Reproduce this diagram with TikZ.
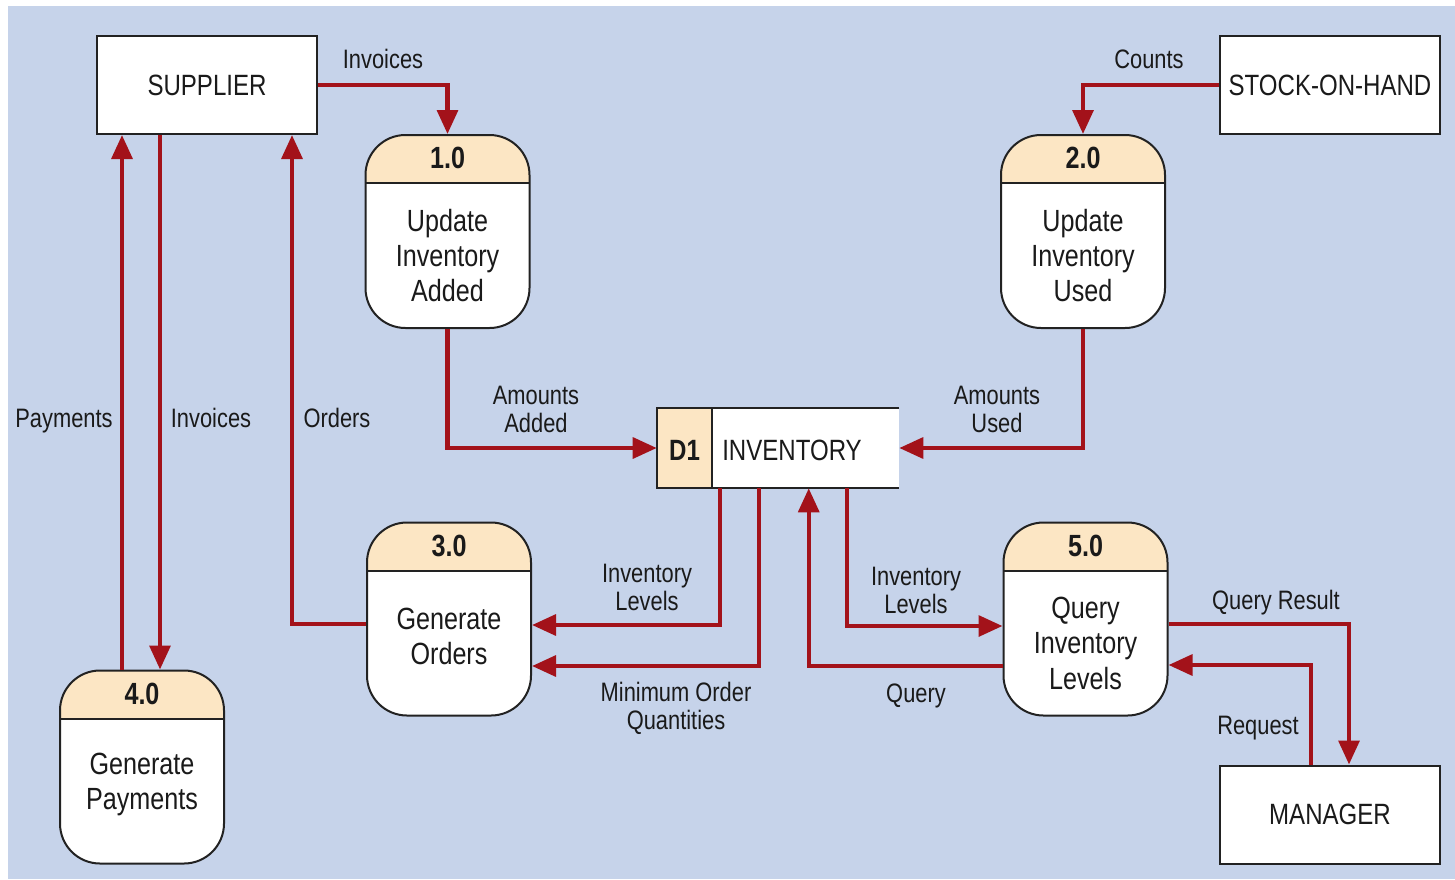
\documentclass[tikz,border=0pt]{standalone}
\usepackage{fontspec}
\setmainfont{Liberation Sans}[FakeStretch=0.82]
\usetikzlibrary{arrows.meta}
\definecolor{bgblue}{HTML}{C6D3EA}
\definecolor{peach}{HTML}{FCE6C4}
\definecolor{flowred}{HTML}{A3121A}
\definecolor{edge}{HTML}{222222}
\definecolor{ink}{HTML}{1A1A1A}
\tikzset{
  entity/.style={draw=edge, fill=white, line width=1.5pt, minimum width=165pt,
    minimum height=73.5pt, inner sep=0pt, text=ink, font=\fontsize{22}{26}\selectfont},
  procbox/.style={draw=edge, fill=white, line width=1.5pt, rounded corners=30pt,
    minimum width=123pt, minimum height=144.75pt, inner sep=0pt,
    path picture={
      \fill[peach, sharp corners] (path picture bounding box.north west) rectangle
        ([yshift=-36pt]path picture bounding box.north east);
      \draw[edge, line width=1.5pt, sharp corners] ([yshift=-36pt]path picture bounding box.north west)
        -- ([yshift=-36pt]path picture bounding box.north east);}},
  headtxt/.style={text=ink, font=\bfseries\fontsize{23}{26}\selectfont, inner sep=0pt},
  bodytxt/.style={text=ink, align=center, font=\fontsize{23}{26.6}\selectfont, inner sep=0pt},
  flowlbl/.style={text=ink, align=center, font=\fontsize{20}{21}\selectfont, inner sep=0pt},
  flow/.style={draw=flowred, line width=3.2pt,
    -{Triangle[length=18pt,width=15.5pt]}},
}
% process box: name, x, y, number, caption, caption offset below centre
\newcommand\procnode[6]{%
  \node[procbox] (#1) at (#2,#3) {};
  \node[headtxt] (#1-num) at ([yshift=-18pt]#1.north) {#4};
  \node[bodytxt] (#1-txt) at ([yshift=-#6]#1.center) {#5};
}
\begin{document}
\begin{tikzpicture}[x=0.75pt, y=-0.75pt]
  \useasboundingbox (0,0) rectangle (1455,879);
  \fill[white] (0,0) rectangle (1455,879);
  \fill[bgblue] (8,6) rectangle (1455,879);

  % external entities
  \node[entity] (sup) at (207,85) {SUPPLIER};
  \node[entity] (soh) at (1330,85) {STOCK-ON-HAND};
  \node[entity] (man) at (1330,814.5) {MANAGER};

  % processes
  \procnode{p1}{447.5}{231.5}{1.0}{Update\\Inventory\\Added}{18pt}
  \procnode{p2}{1083}{231.5}{2.0}{Update\\Inventory\\Used}{18pt}
  \procnode{p3}{449}{619}{3.0}{Generate\\Orders}{13pt}
  \procnode{p5}{1085.5}{619}{5.0}{Query\\Inventory\\Levels}{18pt}
  \procnode{p4}{142}{767}{4.0}{Generate\\Payments}{13pt}

  % data store
  \node[fill=white, minimum width=181.5pt, minimum height=60pt, inner sep=0pt] (inv) at (778,448) {};
  \fill[peach] (inv.north west) rectangle ([xshift=41.25pt]inv.south west);
  \draw[edge, line width=1.5pt] (inv.north east) -- (inv.north west) -- (inv.south west) -- (inv.south east);
  \draw[edge, line width=1.5pt] ([xshift=41.25pt]inv.north west) -- ([xshift=41.25pt]inv.south west);
  \node[headtxt, font=\bfseries\fontsize{22}{26}\selectfont] (inv-id) at (684.5,450) {D1};
  \node[text=ink, font=\fontsize{22}{26}\selectfont, anchor=west, inner sep=0pt] (inv-name) at (722,450) {INVENTORY};

  % anchor points on the store and entities
  \coordinate (d1a) at ([xshift=47.25pt]inv.south west);
  \coordinate (d1b) at ([xshift=76.5pt]inv.south west);
  \coordinate (d1c) at ([xshift=114pt]inv.south west);
  \coordinate (d1d) at ([xshift=142.5pt]inv.south west);
  \coordinate (supA) at ([xshift=-63.75pt]sup.south);
  \coordinate (supB) at ([xshift=-35.25pt]sup.south);
  \coordinate (supC) at ([xshift=63.75pt]sup.south);
  \coordinate (manA) at ([xshift=-14.25pt]man.north);
  \coordinate (manB) at ([xshift=14.25pt]man.north);

  % data flows
  \draw[flow] (sup.east) -| (p1.north);
  \draw[flow] (soh.west) -| (p2.north);
  \draw[flow] (p1.south) |- (inv.west);
  \draw[flow] (p2.south) |- (inv.east);
  \draw[flow] (d1a) |- ([yshift=-4.5pt]p3.east);
  \draw[flow] (d1b) |- ([yshift=-35.25pt]p3.east);
  \draw[flow] ([yshift=-3.75pt]p3.west) -| (supC);
  \draw[flow] (supB) -- (supB |- p4.north);
  \draw[flow] (supA |- p4.north) -- (supA);
  \draw[flow] (d1d) |- ([yshift=-5.25pt]p5.west);
  \draw[flow] ([yshift=-35.25pt]p5.west) -| (d1c);
  \draw[flow] ([yshift=-3.75pt]p5.east) -| (manB);
  \draw[flow] (manA) |- ([yshift=-34.5pt]p5.east);

  % flow labels
  \node[flowlbl] (l-inv1) at (383,59) {Invoices};
  \node[flowlbl] (l-cnt) at (1149,59) {Counts};
  \node[flowlbl] (l-add) at (536,409) {Amounts\\Added};
  \node[flowlbl] (l-used) at (997,409) {Amounts\\Used};
  \node[flowlbl] (l-pay) at (64,421) {Payments};
  \node[flowlbl] (l-inv2) at (211,418) {Invoices};
  \node[flowlbl] (l-ord) at (337,418) {Orders};
  \node[flowlbl] (l-lev1) at (647,587) {Inventory\\Levels};
  \node[flowlbl] (l-min) at (676,708) {Minimum Order\\Quantities};
  \node[flowlbl] (l-lev2) at (916,590) {Inventory\\Levels};
  \node[flowlbl] (l-qry) at (916,696) {Query};
  \node[flowlbl] (l-res) at (1276,603) {Query Result};
  \node[flowlbl] (l-req) at (1258,728) {Request};
\end{tikzpicture}
\end{document}
